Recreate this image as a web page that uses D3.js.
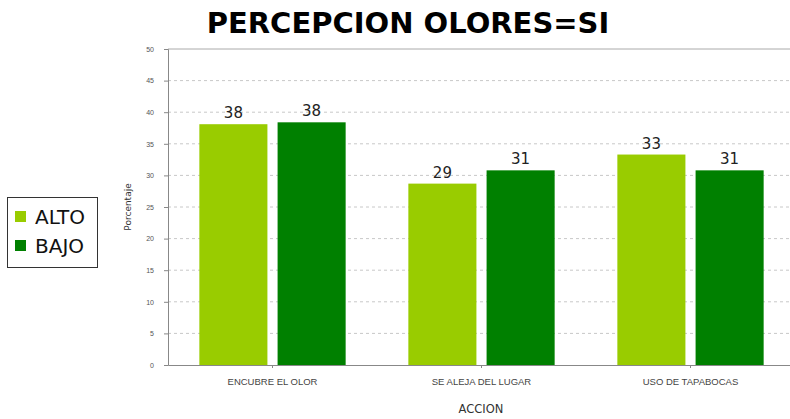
<!DOCTYPE html>
<meta charset="utf-8">
<script src="https://d3js.org/d3.v7.min.js"></script>
<style>
  body { margin: 0; background: #fff; }
  svg { font-family: "DejaVu Sans", "Liberation Sans", Arial, sans-serif; }
</style>
<body>
<div id="chart"></div>
<script>
// data
var categories = ["ENCUBRE EL OLOR", "SE ALEJA DEL LUGAR", "USO DE TAPABOCAS"];
var series = ["ALTO", "BAJO"];
var alto = [38.1, 28.7, 33.3];
var bajo = [38.4, 30.8, 30.8];
var yTicks = [0, 5, 10, 15, 20, 25, 30, 35, 40, 45, 50];
var colors = ["#99cc00", "#008000"];

var width = 790, height = 419;
// the plot runs a little past the right edge of the picture
var plotLeft = 168, plotRight = 795, plotTop = 49, plotBottom = 365;

var svg = d3.select("#chart").append("svg")
  .attr("width", width)
  .attr("height", height);

var x0 = d3.scaleBand().domain(categories).range([plotLeft, plotRight]).paddingInner(0.3).paddingOuter(0.15);
var x1 = d3.scaleBand().domain(series).range([0, x0.bandwidth()]).paddingInner(0.13).paddingOuter(0);
var y = d3.scaleLinear().domain([0, 50]).range([plotBottom, plotTop]);
var color = d3.scaleOrdinal().domain(series).range(colors);

// title
svg.append("text")
  .attr("x", 408).attr("y", 33)
  .attr("text-anchor", "middle")
  .style("font-size", "29px")
  .style("font-weight", "bold")
  .attr("fill", "#000")
  .text("PERCEPCION OLORES=SI");

// gridlines
svg.append("g").selectAll("line")
  .data(yTicks.filter(function (d) { return d > 0 && d < 50; }))
  .enter().append("line")
  .attr("x1", plotLeft).attr("x2", plotRight)
  .attr("y1", function (d) { return y(d); })
  .attr("y2", function (d) { return y(d); })
  .attr("stroke", "#c8c8c8")
  .attr("stroke-dasharray", "3,3")
  .attr("stroke-width", 1);

// top border
svg.append("line")
  .attr("x1", plotLeft).attr("x2", plotRight)
  .attr("y1", y(50)).attr("y2", y(50))
  .attr("stroke", "#aaa");

// y axis
var yAxis = svg.append("g")
  .attr("transform", "translate(" + plotLeft + ",0)")
  .call(d3.axisLeft(y).tickValues(yTicks).tickSize(4).tickPadding(10));
yAxis.select(".domain").attr("stroke", "#888");
yAxis.selectAll(".tick line").attr("stroke", "#888");
yAxis.selectAll("text").style("font-size", "7px").attr("fill", "#555");

// x axis
var xAxis = svg.append("g")
  .attr("transform", "translate(0," + plotBottom + ")")
  .call(d3.axisBottom(x0).tickSize(3).tickSizeOuter(0).tickPadding(10));
xAxis.select(".domain").attr("stroke", "#888");
xAxis.selectAll(".tick line").attr("stroke", "#888");
xAxis.selectAll("text").style("font-size", "9.5px").attr("fill", "#444");

// axis titles
svg.append("text")
  .attr("x", 481).attr("y", 413)
  .attr("text-anchor", "middle")
  .style("font-size", "11.5px")
  .attr("fill", "#333")
  .text("ACCION");

svg.append("text")
  .attr("transform", "translate(131,207) rotate(-90)")
  .attr("text-anchor", "middle")
  .style("font-size", "9px")
  .attr("fill", "#333")
  .text("Porcentaje");

// bars
var rows = categories.map(function (c, i) {
  return { cat: c, values: [{ key: "ALTO", value: alto[i] }, { key: "BAJO", value: bajo[i] }] };
});

var groups = svg.append("g").selectAll("g")
  .data(rows)
  .enter().append("g")
  .attr("transform", function (d) { return "translate(" + x0(d.cat) + ",0)"; });

groups.selectAll("rect")
  .data(function (d) { return d.values; })
  .enter().append("rect")
  .attr("x", function (d) { return x1(d.key); })
  .attr("y", function (d) { return y(d.value); })
  .attr("width", x1.bandwidth())
  .attr("height", function (d) { return y(0) - y(d.value); })
  .attr("fill", function (d) { return color(d.key); });

groups.selectAll("text")
  .data(function (d) { return d.values; })
  .enter().append("text")
  .attr("x", function (d) { return x1(d.key) + x1.bandwidth() / 2; })
  .attr("y", function (d) { return y(d.value) - 6; })
  .attr("text-anchor", "middle")
  .style("font-size", "15px")
  .attr("fill", "#222")
  .text(function (d) { return Math.round(d.value); });

// legend
var legend = svg.append("g");
legend.append("rect")
  .attr("x", 7.5).attr("y", 197.5)
  .attr("width", 90).attr("height", 70)
  .attr("fill", "#fff")
  .attr("stroke", "#333");

var items = legend.selectAll("g")
  .data(series)
  .enter().append("g")
  .attr("transform", function (d, i) { return "translate(15," + (211 + i * 29) + ")"; });
items.append("rect")
  .attr("width", 11).attr("height", 11)
  .attr("fill", function (d) { return color(d); });
items.append("text")
  .attr("x", 20).attr("y", 13)
  .style("font-size", "20px")
  .attr("fill", "#111")
  .text(function (d) { return d; });
</script>
</body>
